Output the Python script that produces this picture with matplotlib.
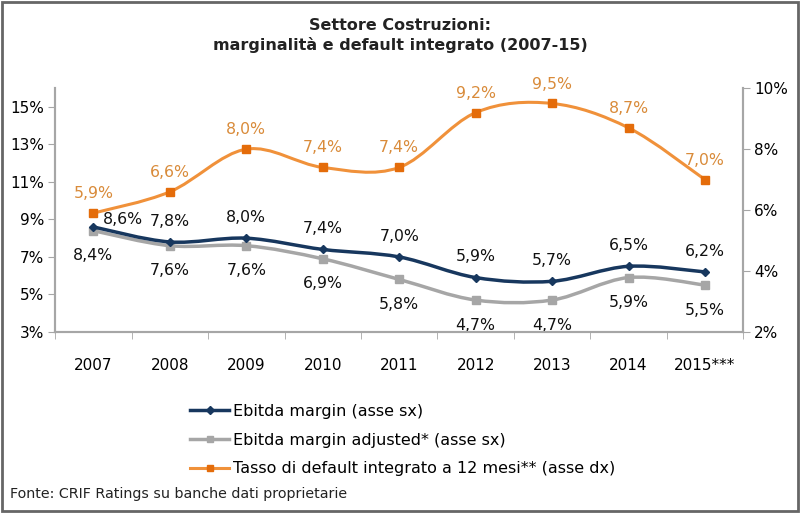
import numpy as np
import matplotlib.pyplot as plt
from matplotlib.path import Path
from matplotlib.patches import PathPatch, Rectangle
from matplotlib.lines import Line2D

years = ['2007', '2008', '2009', '2010', '2011', '2012', '2013', '2014', '2015***']
ebitda = [8.6, 7.8, 8.0, 7.4, 7.0, 5.9, 5.7, 6.5, 6.2]
ebitda_adj = [8.4, 7.6, 7.6, 6.9, 5.8, 4.7, 4.7, 5.9, 5.5]
default_rate = [5.9, 6.6, 8.0, 7.4, 7.4, 9.2, 9.5, 8.7, 7.0]

NAVY = '#17375E'
GREY = '#A6A6A6'
ORANGE = '#F0913A'
ORANGE_MK = '#E46C0A'
ORANGE_TXT = '#D98B3A'


def smooth_path(x, y):
    # catmull-rom style bezier through the data points (like excel smoothed lines)
    pts = np.column_stack([x, y]).astype(float)
    verts = [pts[0]]
    codes = [Path.MOVETO]
    n = len(pts)
    for i in range(n - 1):
        p0 = pts[i - 1] if i > 0 else pts[i]
        p1 = pts[i]
        p2 = pts[i + 1]
        p3 = pts[i + 2] if i + 2 < n else pts[i + 1]
        c1 = p1 + (p2 - p0) / 6.0
        c2 = p2 - (p3 - p1) / 6.0
        verts += [c1, c2, p2]
        codes += [Path.CURVE4] * 3
    return Path(verts, codes)


def pct(v):
    return ('%.1f%%' % v).replace('.', ',')


fig = plt.figure(figsize=(8, 5.13), dpi=100)
plt.rcParams['font.family'] = 'DejaVu Sans'
ax = fig.add_axes([0.069, 0.353, 0.860, 0.475])
ax2 = ax.twinx()

x = np.arange(len(years))

ax.add_patch(PathPatch(smooth_path(x, ebitda_adj), fill=False, ec=GREY, lw=2.5, zorder=2))
ax.plot(x, ebitda_adj, ls='none', marker='s', ms=6, color=GREY, zorder=3)
ax.add_patch(PathPatch(smooth_path(x, ebitda), fill=False, ec=NAVY, lw=2.5, zorder=4))
ax.plot(x, ebitda, ls='none', marker='D', ms=4, color=NAVY, zorder=5)

ax2.add_patch(PathPatch(smooth_path(x, default_rate), fill=False, ec=ORANGE, lw=2.2, zorder=2))
ax2.plot(x, default_rate, ls='none', marker='s', ms=6, color=ORANGE_MK, zorder=3)

LBL = 11.3
for i, v in enumerate(ebitda):
    off = (21, 5) if i == 0 else (0, 15)
    ax.annotate(pct(v), (i, v), xytext=off, textcoords='offset points',
                ha='center', va='center', fontsize=LBL, color='#111111')
for i, v in enumerate(ebitda_adj):
    ax.annotate(pct(v), (i, v), xytext=(0, -18), textcoords='offset points',
                ha='center', va='center', fontsize=LBL, color='#111111')
for i, v in enumerate(default_rate):
    ax2.annotate(pct(v), (i, v), xytext=(0, 14), textcoords='offset points',
                 ha='center', va='center', fontsize=LBL, color=ORANGE_TXT)

ax.set_xlim(-0.5, len(years) - 0.5)
ax.set_ylim(3, 16)
ax.set_yticks([3, 5, 7, 9, 11, 13, 15])
ax.set_yticklabels(['%d%%' % t for t in [3, 5, 7, 9, 11, 13, 15]])
ax2.set_ylim(2, 10)
ax2.set_yticks([2, 4, 6, 8, 10])
ax2.set_yticklabels(['%d%%' % t for t in [2, 4, 6, 8, 10]])

ax.set_xticks(x)
ax.set_xticklabels(years)
ax.set_xticks(np.arange(len(years) + 1) - 0.5, minor=True)
ax.tick_params(axis='x', which='major', length=0, pad=19, labelsize=11)
ax.tick_params(axis='x', which='minor', length=5, color=GREY, direction='out')
ax.tick_params(axis='y', length=5, color=GREY, labelsize=11, pad=3)
ax2.tick_params(axis='y', length=5, color=GREY, labelsize=11, pad=3)

for a in (ax, ax2):
    a.spines['top'].set_visible(False)
    for s in ('left', 'right', 'bottom'):
        a.spines[s].set_color(GREY)
        a.spines[s].set_linewidth(1.5)

fig.text(0.5, 0.951, 'Settore Costruzioni:', ha='center', va='center',
         fontsize=11.5, fontweight='bold', color='#222222')
fig.text(0.5, 0.912, 'marginalità e default integrato (2007-15)', ha='center', va='center',
         fontsize=11.5, fontweight='bold', color='#222222')

handles = [
    Line2D([], [], color=NAVY, lw=2.5, marker='D', ms=4),
    Line2D([], [], color=GREY, lw=2.5, marker='s', ms=5),
    Line2D([], [], color=ORANGE, lw=2.2, marker='s', ms=5, mfc=ORANGE_MK, mec=ORANGE_MK),
]
labels = ['Ebitda margin (asse sx)', 'Ebitda margin adjusted* (asse sx)',
          'Tasso di default integrato a 12 mesi** (asse dx)']
fig.legend(handles, labels, loc='upper left', bbox_to_anchor=(0.228, 0.228),
           frameon=False, fontsize=11.5, handlelength=2.4, handletextpad=0.25,
           labelspacing=0.85, borderpad=0)

fig.text(0.012, 0.038, 'Fonte: CRIF Ratings su banche dati proprietarie', ha='left',
         va='center', fontsize=10.3, color='#222222')

fig.add_artist(Rectangle((0.002, 0.003), 0.996, 0.994, transform=fig.transFigure,
                         fill=False, ec='#666666', lw=2))

fig.savefig('out.png', dpi=100)
